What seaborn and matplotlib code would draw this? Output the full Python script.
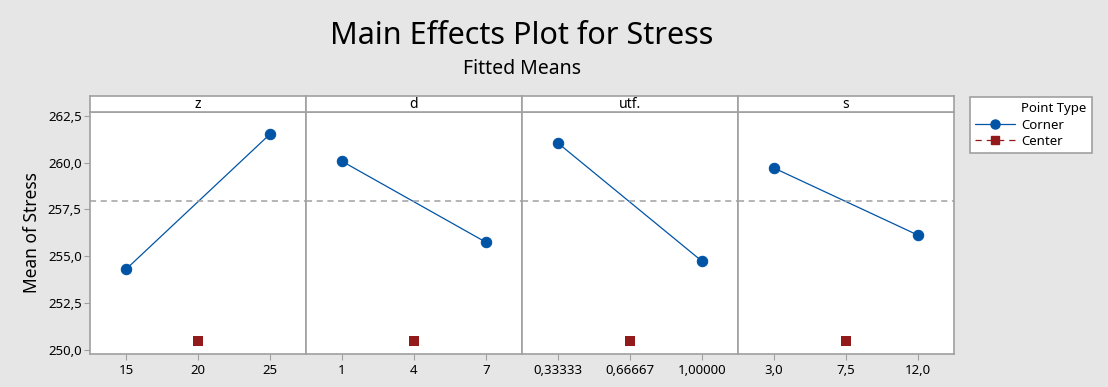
import numpy as np
import pandas as pd
import matplotlib.pyplot as plt
from matplotlib.lines import Line2D
import seaborn as sns

# Main effects data (fitted means)
factors = ["z", "d", "utf.", "s"]
corner_x = [[15, 25], [1, 7], [0.33333, 1.0], [3.0, 12.0]]
corner_mean = [[254.31, 261.52], [260.07, 255.75], [261.04, 254.74], [259.71, 256.13]]
center_x = [20, 4, 0.66667, 7.5]
center_mean = [250.46, 250.46, 250.46, 250.46]
grand_mean = 257.93
tick_vals = [[15, 20, 25], [1, 4, 7], [0.33333, 0.66667, 1.0], [3.0, 7.5, 12.0]]
tick_labels = [["15", "20", "25"], ["1", "4", "7"],
               ["0,33333", "0,66667", "1,00000"], ["3,0", "7,5", "12,0"]]
y_ticks = [250.0, 252.5, 255.0, 257.5, 260.0, 262.5]
y_tick_labels = ["250,0", "252,5", "255,0", "257,5", "260,0", "262,5"]

sns.set_style("white")
plt.rcParams['font.family'] = ['Noto Sans', 'DejaVu Sans']
plt.rcParams['text.color'] = 'black'
plt.rcParams['axes.labelcolor'] = 'black'
plt.rcParams['xtick.color'] = 'black'
plt.rcParams['ytick.color'] = 'black'

blue = '#0054a6'
red = '#931a1a'
grey = '#a0a0a0'
bg = '#e6e6e6'

W, H = 1108, 387
fig = plt.figure(figsize=(W / 100, H / 100), dpi=100, facecolor=bg)

left, right = 90, 954
top_plot, bottom_plot, top_strip = 112, 354, 96
pw = (right - left) / 4

for i, name in enumerate(factors):
    x0 = (left + i * pw) / W
    ax = fig.add_axes([x0, 1 - bottom_plot / H, pw / W, (bottom_plot - top_plot) / H])
    ax.set_facecolor('white')

    df_c = pd.DataFrame({"x": corner_x[i], "mean": corner_mean[i]})
    sns.lineplot(data=df_c, x="x", y="mean", ax=ax, color=blue, lw=0.9,
                 marker='o', markersize=7.5, markeredgecolor=blue)
    df_m = pd.DataFrame({"x": [center_x[i]], "mean": [center_mean[i]]})
    sns.scatterplot(data=df_m, x="x", y="mean", ax=ax, color=red, marker='s',
                    s=50, edgecolor=red, linewidth=0)
    ax.axhline(grand_mean, color=grey, lw=1.1, ls=(0, (4, 3)))

    lo, hi = tick_vals[i][0], tick_vals[i][-1]
    pad = (hi - lo) / 4
    ax.set_xlim(lo - pad, hi + pad)
    ax.set_ylim(249.79, 262.70)
    ax.set_xticks(tick_vals[i])
    ax.set_xticklabels(tick_labels[i], fontsize=9.5)
    ax.set_xlabel("")
    if i == 0:
        ax.set_yticks(y_ticks)
        ax.set_yticklabels(y_tick_labels, fontsize=9.5)
        ax.set_ylabel("Mean of Stress", fontsize=12.5, labelpad=5)
        ax.tick_params(axis='y', left=True, length=4, color=grey, pad=2)
    else:
        ax.set_yticks([])
        ax.set_ylabel("")
    ax.tick_params(axis='x', bottom=True, length=4, color=grey, pad=3)
    for sp in ax.spines.values():
        sp.set_color(grey)
        sp.set_linewidth(1.2)

    # strip header
    sax = fig.add_axes([x0, 1 - top_plot / H, pw / W, (top_plot - top_strip) / H])
    sax.set_facecolor('white')
    sax.set_xticks([])
    sax.set_yticks([])
    for sp in sax.spines.values():
        sp.set_color(grey)
        sp.set_linewidth(1.2)
    sax.text(0.5, 0.45, name, ha='center', va='center', fontsize=10,
             transform=sax.transAxes)

fig.text((left + right) / 2 / W, 1 - 36 / H, "Main Effects Plot for Stress",
         ha='center', va='center', fontsize=22)
fig.text((left + right) / 2 / W, 1 - 69 / H, "Fitted Means",
         ha='center', va='center', fontsize=14)

# legend: title as first row so it lines up with the labels
handles = [Line2D([], [], color='none'),
           Line2D([], [], color=blue, lw=0.9, marker='o', markersize=6.5),
           Line2D([], [], color=red, lw=0.9, ls=(0, (5, 4)), marker='s', markersize=6)]
leg = fig.legend(handles, ["Point Type", "Corner", "Center"],
                 loc='upper left', bbox_to_anchor=(970 / W, 1 - 97 / H),
                 fontsize=9.5, frameon=True, fancybox=False, framealpha=1,
                 handlelength=3.0, borderpad=0.4, labelspacing=0.25,
                 handletextpad=0.5, borderaxespad=0)
leg.get_frame().set_edgecolor(grey)
leg.get_frame().set_linewidth(1.2)
leg.get_frame().set_facecolor('white')

fig.savefig("out.png", dpi=100, facecolor=bg)
